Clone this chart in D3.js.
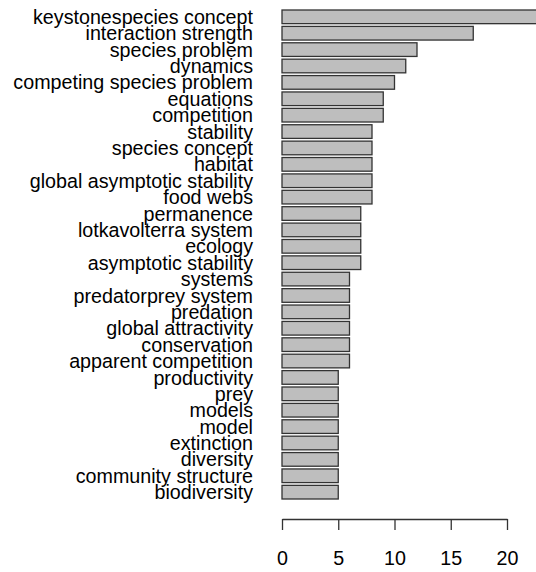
<!DOCTYPE html>
<html><head><meta charset="utf-8">
<script src="https://cdn.jsdelivr.net/npm/d3@7"></script>
<style>body{margin:0;background:#fff}svg{display:block}</style>
</head><body>
<svg id="c" width="536" height="572"></svg>
<script>
const categories = ["keystonespecies concept","interaction strength","species problem","dynamics","competing species problem","equations","competition","stability","species concept","habitat","global asymptotic stability","food webs","permanence","lotkavolterra system","ecology","asymptotic stability","systems","predatorprey system","predation","global attractivity","conservation","apparent competition","productivity","prey","models","model","extinction","diversity","community structure","biodiversity"];
const values = [24,17,12,11,10,9,9,8,8,8,8,8,7,7,7,7,6,6,6,6,6,6,5,5,5,5,5,5,5,5];
const tickValues = [0,5,10,15,20];

const svg = d3.select("#c");
const x = d3.scaleLinear().domain([0,20]).range([282,507]);
const y = d3.scaleBand().domain(categories).range([10,499]).paddingInner(0.2/1.2).paddingOuter(0);

svg.append("g").selectAll("rect").data(categories).join("rect")
  .attr("x", x(0)).attr("y", d=>y(d))
  .attr("width", (d,i)=>x(values[i])-x(0)).attr("height", y.bandwidth())
  .attr("fill","#bebebe").attr("stroke","#333").attr("stroke-width",1.3);

svg.append("g").selectAll("text").data(categories).join("text")
  .attr("x",253).attr("y",d=>y(d)+y.bandwidth()/2).attr("dy","0.36em")
  .attr("text-anchor","end").attr("font-family","Liberation Sans, Arial, sans-serif")
  .attr("font-size",19.7).attr("fill","#000").text(d=>d);

const ax = svg.append("g").attr("transform","translate(0,519)")
  .call(d3.axisBottom(x).tickValues(tickValues).tickSize(11).tickPadding(21).tickSizeOuter(0));
ax.select(".domain").attr("stroke","#333").attr("stroke-width",1.3);
ax.selectAll(".tick line").attr("stroke","#333").attr("stroke-width",1.3);
ax.selectAll(".tick text").attr("font-family","Liberation Sans, Arial, sans-serif").attr("font-size",19.7).attr("fill","#000");
</script>
</body></html>
